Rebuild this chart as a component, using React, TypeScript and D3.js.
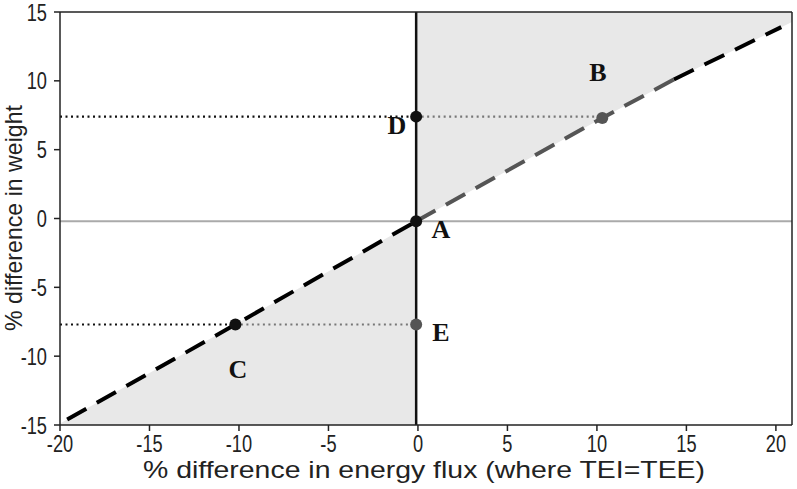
import React from "react";
import * as d3 from "d3";

const xTicks = [-20, -15, -10, -5, 0, 5, 10, 15, 20];
const yTicks = [-15, -10, -5, 0, 5, 10, 15];
const lowerLine: [number, number][] = [[-19.6, -14.6], [-10.2, -7.7], [-0.1, -0.2]];
const greyLine: [number, number][] = [[-0.1, -0.2], [10.3, 7.3], [14.3, 10.1]];
const upperLine: [number, number][] = [[14.3, 10.1], [20.3, 13.9]];
const pointNames = ["A", "B", "C", "D", "E"];
const pointX = [-0.1, 10.3, -10.2, -0.1, -0.1];
const pointY = [-0.2, 7.3, -7.7, 7.4, -7.7];
const pointFill = ["#111", "#555", "#111", "#111", "#555"];
const labelX = [1.28, 10.06, -10.06, -1.17, 1.28];
const labelY = [-0.83, 10.57, -11.0, 6.79, -8.31];
const zeroWeight = -0.2;

export default function App() {
  const W = 797, H = 489;
  const x = d3.scaleLinear().domain([-20, 20.9]).range([60, 792]);
  const y = d3.scaleLinear().domain([-15, 15]).range([425, 12]);
  const line = d3.line<[number, number]>().x(d => x(d[0])).y(d => y(d[1]));
  const all = [...lowerLine, ...greyLine.slice(1), ...upperLine.slice(1)];
  const lineAt = (xv: number) => {
    let i = 0;
    if (xv <= all[0][0]) i = 0;
    else if (xv >= all[all.length - 1][0]) i = all.length - 2;
    else while (i < all.length - 2 && xv > all[i + 1][0]) i++;
    const [x0, y0] = all[i], [x1, y1] = all[i + 1];
    return y0 + (y1 - y0) * (xv - x0) / (x1 - x0);
  };
  const xmin = -20, xmax = 20.9, ymin = -15, ymax = 15;
  const upperPoly: [number, number][] = [
    [-0.1, -0.2], [-0.1, ymax], [xmax, ymax], [xmax, lineAt(xmax)],
    ...all.filter(p => p[0] > -0.1).slice().reverse(),
  ];
  const lowerPoly: [number, number][] = [
    [xmin, ymin], [-0.1, ymin], [-0.1, -0.2],
    ...all.filter(p => p[0] < -0.1).slice().reverse(), [xmin, lineAt(xmin)],
  ];
  const poly = (pts: [number, number][]) => "M" + pts.map(p => `${x(p[0])},${y(p[1])}`).join("L") + "Z";
  const tickFont = "'Liberation Sans', Arial, sans-serif";
  const A = pointX[0];
  const sx = 0.76;
  return (
    <svg width={W} height={H} style={{ position: "absolute", left: 0, top: 0, background: "#fff" }}>
      <path d={poly(upperPoly)} fill="#e8e8e8" />
      <path d={poly(lowerPoly)} fill="#e8e8e8" />
      <line x1={x(xmin)} x2={x(xmax)} y1={y(zeroWeight)} y2={y(zeroWeight)} stroke="#aaa" strokeWidth={2} />
      <line x1={x(A)} x2={x(A)} y1={y(ymin)} y2={y(ymax)} stroke="#111" strokeWidth={2.5} />
      <line x1={x(xmin)} x2={x(pointX[3])} y1={y(pointY[3])} y2={y(pointY[3])} stroke="#111" strokeWidth={2.2} strokeDasharray="2 3.5" />
      <line x1={x(pointX[3])} x2={x(pointX[1])} y1={y(pointY[3])} y2={y(pointY[3])} stroke="#777" strokeWidth={2.2} strokeDasharray="2 3.5" />
      <line x1={x(xmin)} x2={x(pointX[2])} y1={y(pointY[2])} y2={y(pointY[2])} stroke="#111" strokeWidth={2.2} strokeDasharray="2 3.5" />
      <line x1={x(pointX[2])} x2={x(pointX[4])} y1={y(pointY[4])} y2={y(pointY[4])} stroke="#777" strokeWidth={2.2} strokeDasharray="2 3.5" />
      <path d={line(lowerLine) || ""} fill="none" stroke="#000" strokeWidth={4} strokeDasharray="22 12" />
      <path d={line(greyLine) || ""} fill="none" stroke="#555" strokeWidth={4} strokeDasharray="22 12" />
      <path d={line(upperLine) || ""} fill="none" stroke="#000" strokeWidth={4} strokeDasharray="22 12" />
      {pointNames.map((n, i) => (
        <circle key={n} cx={x(pointX[i])} cy={y(pointY[i])} r={6} fill={pointFill[i]} />
      ))}
      {pointNames.map((n, i) => (
        <text key={"l" + n} x={x(labelX[i])} y={y(labelY[i])} textAnchor="middle" dominantBaseline="central"
          fontFamily="'Liberation Serif', 'Times New Roman', serif" fontWeight="bold" fontSize={26} fill="#111">{n}</text>
      ))}
      <line x1={x(xmin)} x2={x(xmax)} y1={y(ymax)} y2={y(ymax)} stroke="#222" strokeWidth={1.5} />
      <line x1={x(xmax)} x2={x(xmax)} y1={y(ymin)} y2={y(ymax)} stroke="#222" strokeWidth={1.5} />
      <line x1={x(xmin)} x2={x(xmax)} y1={y(ymin)} y2={y(ymin)} stroke="#222" strokeWidth={1.5} />
      <line x1={x(xmin)} x2={x(xmin)} y1={y(ymin)} y2={y(ymax)} stroke="#222" strokeWidth={1.5} />
      {xTicks.map(t => (
        <g key={"x" + t}>
          <line x1={x(t)} x2={x(t)} y1={y(ymin)} y2={y(ymin) + 6} stroke="#222" strokeWidth={1.5} />
          <text transform={`translate(${x(t)},${y(ymin) + 27}) scale(${sx},1)`} textAnchor="middle" fontFamily={tickFont} fontSize={24} fill="#222">{t}</text>
        </g>
      ))}
      {yTicks.map(t => (
        <g key={"y" + t}>
          <line x1={x(xmin) - 6} x2={x(xmin)} y1={y(t)} y2={y(t)} stroke="#222" strokeWidth={1.5} />
          <text transform={`translate(${x(xmin) - 13},${y(t) + 8.5}) scale(${sx},1)`} textAnchor="end" fontFamily={tickFont} fontSize={24} fill="#222">{t}</text>
        </g>
      ))}
      <text x={424} y={478} textAnchor="middle" fontFamily={tickFont} fontSize={24} fill="#222"
        textLength={562} lengthAdjust="spacingAndGlyphs">% difference in energy flux (where TEI=TEE)</text>
      <text transform={`translate(22,218) rotate(-90)`} textAnchor="middle" fontFamily={tickFont} fontSize={24} fill="#222"
        textLength={226} lengthAdjust="spacingAndGlyphs">% difference in weight</text>
    </svg>
  );
}
